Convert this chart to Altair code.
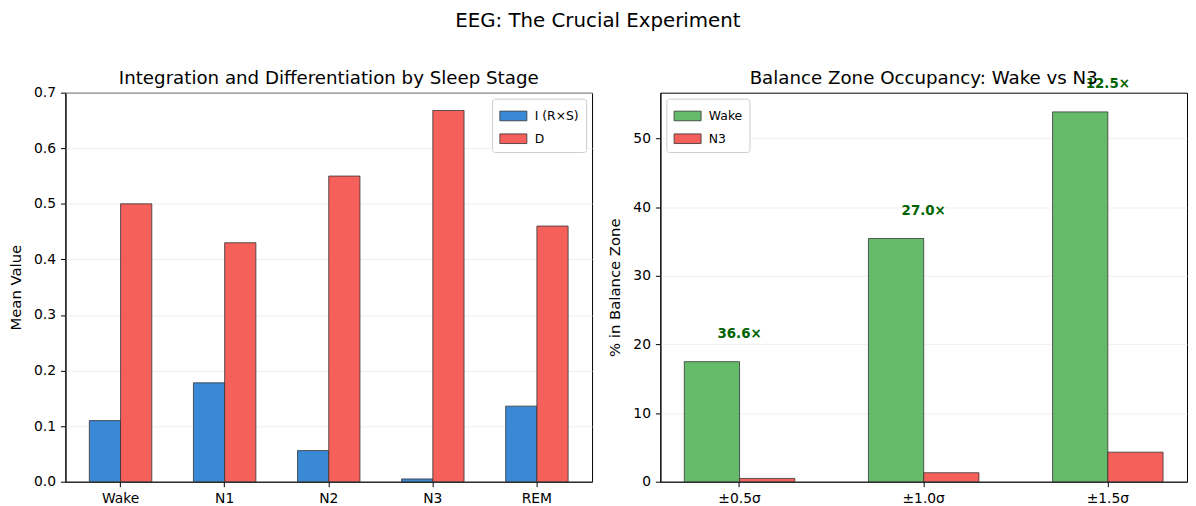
import altair as alt
import pandas as pd

# ---------------- data ----------------
stages = ["Wake", "N1", "N2", "N3", "REM"]
i_vals = [0.110, 0.178, 0.056, 0.005, 0.136]
d_vals = [0.500, 0.430, 0.550, 0.668, 0.460]
left_series = ["I (R×S)", "D"]

zones = ["±0.5σ", "±1.0σ", "±1.5σ"]
wake_pct = [17.5, 35.45, 53.9]
n3_pct = [0.48, 1.31, 4.31]
ratios = [36.6, 27.0, 12.5]
right_series = ["Wake", "N3"]

BLUE = "#3a89d7"
RED = "#f5605a"
GREEN = "#66bb6a"
DKGREEN = "#006400"
FONT = "DejaVu Sans"

left_df = pd.DataFrame({
    "stage": stages * 2,
    "series": [left_series[0]] * len(stages) + [left_series[1]] * len(stages),
    "value": i_vals + d_vals,
})
right_df = pd.DataFrame({
    "zone": zones * 2,
    "series": [right_series[0]] * len(zones) + [right_series[1]] * len(zones),
    "value": wake_pct + n3_pct,
})
label_df = pd.DataFrame({
    "zone": zones,
    "wake": wake_pct,
    "ratio": ratios,
})

rect_symbol = "M-1.4,-0.5H1.4V0.5H-1.4Z"

def legend(orient):
    return alt.Legend(
        title=None, orient=orient, offset=6,
        fillColor="white", strokeColor="#cccccc", cornerRadius=3,
        padding=7, rowPadding=6, labelOffset=11, symbolOffset=4,
        symbolType=rect_symbol, symbolSize=380,
        symbolStrokeColor="#333333", symbolStrokeWidth=0.8, symbolOpacity=1,
        labelFontSize=12.5, labelFont=FONT, labelColor="black",
    )

def sub_title(text, offset):
    return alt.TitleParams(text, frame="group", fontSize=18.4, offset=offset,
                           font=FONT, fontWeight="normal", color="black",
                           anchor="middle")

left = alt.Chart(left_df).mark_bar(stroke="#333333", strokeWidth=0.8, opacity=1).encode(
    x=alt.X("stage:N", sort=stages,
            scale=alt.Scale(paddingInner=0.4, paddingOuter=0.23),
            axis=alt.Axis(title=None, labelAngle=0)),
    xOffset=alt.XOffset("series:N", sort=left_series,
                        scale=alt.Scale(domain=left_series, paddingInner=0, paddingOuter=0)),
    y=alt.Y("value:Q", scale=alt.Scale(domain=[0, 0.7], nice=False),
            axis=alt.Axis(title="Mean Value", format=".1f",
                          values=[0, 0.1, 0.2, 0.3, 0.4, 0.5, 0.6, 0.7])),
    color=alt.Color("series:N", sort=left_series,
                    scale=alt.Scale(domain=left_series, range=[BLUE, RED]),
                    legend=legend("top-right")),
).properties(width=532, height=393,
             title=sub_title("Integration and Differentiation by Sleep Stage", -2))

right_bars = alt.Chart(right_df).mark_bar(stroke="#333333", strokeWidth=0.8, opacity=1).encode(
    x=alt.X("zone:N", sort=zones,
            scale=alt.Scale(paddingInner=0.4, paddingOuter=0.13),
            axis=alt.Axis(title=None, labelAngle=0)),
    xOffset=alt.XOffset("series:N", sort=right_series,
                        scale=alt.Scale(domain=right_series, paddingInner=0, paddingOuter=0)),
    y=alt.Y("value:Q", scale=alt.Scale(domain=[0, 56.7], nice=False),
            axis=alt.Axis(title="% in Balance Zone", values=[0, 10, 20, 30, 40, 50])),
    color=alt.Color("series:N", sort=right_series,
                    scale=alt.Scale(domain=right_series, range=[GREEN, RED]),
                    legend=legend("top-left")),
)

right_text = alt.Chart(label_df).transform_calculate(
    ypos="datum.wake + 3",
    txt="format(datum.ratio, '.1f') + '×'",
).mark_text(color=DKGREEN, fontWeight="bold", fontSize=13.5, font=FONT,
            baseline="bottom", align="center").encode(
    x=alt.X("zone:N", sort=zones),
    y=alt.Y("ypos:Q"),
    text="txt:N",
)

right = alt.layer(right_bars, right_text).properties(
    width=532, height=393,
    title=sub_title("Balance Zone Occupancy: Wake vs N3", -10),
)

chart = alt.hconcat(left, right, spacing=14).resolve_scale(
    color="independent", x="independent", y="independent", xOffset="independent"
).properties(
    title=alt.TitleParams("EEG: The Crucial Experiment", fontSize=20,
                          anchor="middle", offset=38, font=FONT,
                          fontWeight="normal", color="black"),
    padding={"left": 0, "right": 0, "top": 0, "bottom": 0},
).configure_view(
    stroke="black", strokeWidth=1
).configure_axis(
    domainColor="black", tickColor="black", tickSize=5,
    labelFont=FONT, labelFontSize=14, labelColor="black",
    titleFont=FONT, titleFontSize=15, titleFontWeight="normal", titleColor="black",
    titlePadding=10, labelPadding=5,
    gridColor="#ececec", gridWidth=0.8,
).configure_axisX(
    grid=False
)

chart.save("out.html", embed_options={"renderer": "svg", "actions": False})
